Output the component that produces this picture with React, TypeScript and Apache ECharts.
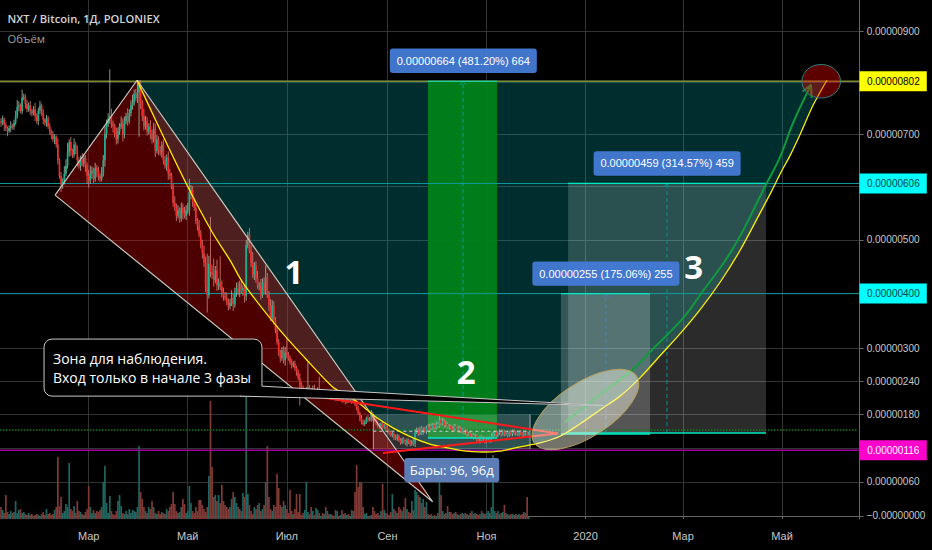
import React, { useEffect, useRef } from 'react';
import * as echarts from 'echarts';

// prices are in satoshi (1 = 0.00000001 BTC), days are counted from 2019-01-01
const FIRST_DAY = 5;
const FIRST_OPEN = 725;
const DAY_MIN = 4.38;
const DAY_MAX = 533.8;

const closes = [
  722, 728, 718, 712, 706, 712, 716, 714, 722, 735,
  752, 755, 744, 770, 772, 758, 748, 755, 745, 740,
  748, 735, 725, 745, 755, 740, 728, 722, 730, 715,
  705, 698, 690, 695, 680, 650, 620, 604, 610, 625,
  640, 665, 685, 668, 660, 680, 670, 650, 640, 650,
  645, 655, 640, 620, 612, 625, 630, 615, 635, 630,
  620, 615, 625, 650, 700, 720, 730, 735, 720, 715,
  700, 690, 705, 715, 720, 700, 725, 735, 725, 740,
  755, 760, 778, 770, 780, 795, 760, 735, 715, 725,
  705, 715, 700, 690, 710, 668, 690, 668, 665, 680,
  650, 640, 655, 625, 620, 600, 570, 560, 545, 555,
  540, 560, 550, 545, 555, 555, 590, 595, 570, 560,
  535, 525, 510, 490, 475, 457, 415, 397, 455, 440,
  435, 425, 443, 415, 420, 412, 402, 395, 392, 385,
  377, 382, 392, 380, 402, 410, 402, 418, 406, 410,
  395, 490, 510, 480, 457, 435, 452, 428, 415, 415,
  397, 420, 406, 430, 397, 378, 355, 378, 351, 333,
  311, 292, 282, 296, 278, 292, 287, 282, 274, 269,
  271, 264, 256, 246, 233, 228, 219, 222, 224, 228,
  224, 222, 226, 220, 222, 224, 218, 220, 216, 219,
  214, 216, 212, 215, 210, 213, 208, 210, 207, 209,
  205, 206, 203, 207, 205, 206, 203, 205, 200, 191,
  182, 173, 166, 163, 166, 173, 171, 171, 180, 173,
  171, 164, 161, 159, 163, 157, 159, 155, 150, 148,
  143, 145, 139, 137, 141, 134, 130, 136, 132, 128,
  134, 130, 127, 132, 128, 148, 152, 146, 155, 148,
  153, 150, 157, 152, 159, 155, 161, 157, 162, 159,
  170, 164, 168, 161, 163, 157, 159, 155, 153, 159,
  155, 152, 155, 150, 153, 148, 150, 145, 146, 141,
  143, 139, 141, 136, 132, 139, 134, 137, 132, 136,
  137, 134, 141, 145, 148, 143, 146, 150, 145, 148,
  145, 146, 143, 148, 145, 150, 146, 148, 145, 148,
  146, 143, 148, 146, 145, 146,
];

const wickUp = [
  6, 8, 4, 5, 3, 5, 9, 4, 6, 10,
  14, 8, 4, 16, 6, 5, 8, 6, 9, 4,
  6, 12, 5, 6, 9, 4, 8, 3, 7, 5,
  6, 4, 8, 5, 3, 12, 4, 8, 6, 14,
  12, 18, 5, 10, 4, 12, 5, 8, 6, 9,
  14, 7, 5, 6, 12, 15, 8, 6, 10, 6,
  8, 5, 12, 10, 15, 8, 10, 90, 14, 6,
  5, 12, 8, 6, 14, 10, 9, 6, 15, 8,
  10, 16, 8, 9, 24, 9, 9, 6, 14, 10,
  8, 6, 12, 9, 12, 10, 8, 6, 9, 6,
  10, 8, 6, 12, 9, 6, 6, 12, 8, 10,
  6, 10, 8, 12, 10, 14, 25, 8, 6, 9,
  8, 6, 12, 8, 10, 14, 12, 59, 15, 88,
  12, 30, 8, 20, 8, 49, 12, 9, 8, 10,
  6, 8, 14, 8, 9, 10, 12, 6, 8, 6,
  8, 10, 5, 12, 10, 20, 6, 8, 14, 6,
  12, 8, 10, 22, 8, 8, 12, 10, 8, 6,
  8, 6, 5, 6, 8, 10, 27, 6, 5, 6,
  5, 6, 4, 5, 8, 5, 4, 5, 6, 47,
  5, 4, 6, 8, 4, 5, 24, 4, 6, 3,
  5, 3, 6, 4, 5, 3, 4, 5, 3, 4,
  4, 3, 6, 4, 3, 8, 4, 3, 5, 6,
  4, 3, 6, 5, 4, 3, 6, 4, 8, 5,
  4, 3, 5, 4, 3, 5, 4, 3, 4, 5,
  3, 4, 3, 5, 4, 3, 4, 3, 4, 3,
  4, 3, 5, 3, 4, 6, 5, 4, 3, 5,
  4, 5, 3, 6, 4, 5, 4, 3, 5, 4,
  8, 3, 6, 4, 5, 3, 4, 3, 5, 4,
  4, 3, 5, 4, 3, 4, 3, 4, 3, 5,
  3, 4, 5, 3, 4, 3, 5, 4, 3, 4,
  3, 4, 5, 4, 3, 5, 4, 3, 4, 5,
  4, 3, 4, 3, 5, 3, 4, 3, 4, 3,
  4, 3, 4, 3, 4, 3,
];

const wickDown = [
  8, 5, 12, 6, 10, 4, 8, 5, 6, 4,
  5, 8, 4, 6, 5, 9, 6, 5, 8, 6,
  4, 10, 5, 8, 6, 5, 9, 6, 8, 5,
  6, 8, 5, 9, 6, 8, 5, 14, 8, 6,
  5, 6, 8, 10, 6, 5, 8, 12, 6, 10,
  6, 8, 12, 15, 14, 6, 10, 8, 6, 12,
  8, 6, 5, 6, 12, 8, 6, 10, 8, 12,
  6, 10, 8, 6, 5, 14, 8, 6, 9, 5,
  6, 8, 5, 6, 10, 85, 12, 10, 8, 6,
  8, 5, 10, 8, 6, 12, 5, 8, 6, 10,
  8, 6, 10, 12, 6, 5, 8, 6, 10, 5,
  8, 6, 12, 5, 8, 6, 10, 14, 8, 6,
  6, 8, 5, 6, 10, 8, 12, 32, 6, 10,
  8, 12, 6, 10, 8, 6, 9, 8, 5, 6,
  8, 6, 5, 12, 6, 8, 5, 9, 6, 10,
  12, 8, 6, 5, 8, 6, 10, 8, 6, 9,
  8, 5, 6, 8, 5, 10, 6, 5, 8, 6,
  5, 6, 8, 5, 6, 10, 6, 5, 4, 6,
  4, 5, 6, 4, 37, 6, 5, 4, 6, 5,
  4, 3, 5, 4, 3, 4, 5, 3, 4, 3,
  3, 4, 3, 5, 3, 4, 3, 4, 3, 3,
  4, 3, 5, 3, 4, 3, 4, 3, 5, 4,
  3, 5, 4, 3, 4, 3, 5, 3, 4, 5,
  4, 3, 4, 5, 3, 4, 3, 4, 3, 5,
  3, 4, 5, 3, 4, 3, 4, 3, 4, 3,
  5, 3, 4, 3, 4, 6, 3, 4, 3, 5,
  4, 3, 5, 3, 4, 3, 4, 3, 5, 4,
  3, 4, 3, 5, 4, 3, 4, 3, 5, 3,
  4, 3, 5, 3, 4, 3, 4, 5, 3, 4,
  3, 4, 3, 5, 3, 4, 4, 3, 4, 3,
  3, 5, 4, 3, 4, 3, 4, 3, 5, 3,
  4, 3, 4, 3, 3, 4, 3, 4, 3, 4,
  3, 4, 3, 4, 3, 3,
];

const volumes = [
  12, 9, 6, 24, 7, 5, 8, 6, 7, 18,
  6, 9, 10, 6, 7, 5, 4, 6, 4, 5,
  3, 4, 5, 4, 3, 5, 7, 4, 10, 5,
  6, 4, 5, 9, 12, 62, 13, 22, 6, 8,
  15, 12, 56, 10, 8, 13, 6, 18, 8, 7,
  5, 4, 7, 10, 33, 12, 6, 9, 6, 8,
  7, 9, 12, 37, 53, 16, 6, 23, 8, 5,
  4, 8, 18, 24, 13, 6, 5, 8, 5, 10,
  6, 9, 8, 7, 12, 73, 27, 20, 12, 8,
  6, 12, 10, 18, 12, 6, 5, 8, 5, 7,
  6, 5, 10, 8, 12, 15, 27, 15, 8, 6,
  7, 12, 20, 15, 6, 8, 33, 16, 8, 6,
  12, 8, 19, 19, 14, 10, 7, 12, 43, 118,
  52, 22, 24, 18, 24, 16, 34, 18, 14, 12,
  10, 12, 20, 27, 22, 16, 12, 10, 8, 26,
  22, 124, 25, 14, 8, 5, 12, 10, 14, 16,
  8, 10, 14, 37, 73, 22, 10, 8, 14, 12,
  45, 31, 14, 12, 18, 14, 10, 6, 29, 8,
  5, 10, 25, 7, 25, 4, 6, 9, 37, 7,
  5, 12, 8, 4, 11, 9, 6, 3, 6, 5,
  12, 8, 5, 5, 4, 3, 9, 8, 3, 4,
  9, 5, 6, 4, 5, 3, 9, 8, 27, 54,
  32, 37, 36, 12, 5, 6, 3, 3, 4, 12,
  8, 5, 6, 4, 8, 35, 9, 6, 5, 4,
  7, 25, 10, 8, 6, 12, 10, 8, 12, 21,
  10, 7, 6, 18, 9, 29, 27, 24, 22, 16,
  20, 12, 17, 5, 4, 5, 3, 4, 3, 6,
  38, 24, 8, 5, 6, 13, 7, 7, 5, 6,
  7, 5, 4, 5, 6, 5, 6, 5, 4, 6,
  8, 5, 6, 5, 4, 5, 8, 6, 5, 6,
  8, 6, 12, 64, 8, 6, 8, 5, 6, 7,
  14, 6, 5, 4, 5, 5, 4, 5, 4, 5,
  4, 5, 7, 6, 22, 2,
];

const monthTicks: [number, string][] = [
  [59, 'Мар'], [120, 'Май'], [181, 'Июл'], [243, 'Сен'],
  [304, 'Ноя'], [365, '2020'], [425, 'Мар'], [486, 'Май'],
];
const gridPrices = [900, 800, 700, 600, 500, 400, 300, 240, 180, 120, 60, 0];
const labelPrices = [900, 700, 500, 300, 240, 180, 60, 0];

// drawings, as [day, price]
const triangle = [[38.3, 584], [88.8, 804], [270.8, 25]];
const bigCurve = [
  [88.8, 804], [101.1, 721], [119.5, 603], [134.9, 515], [146, 462], [154, 420],
  [175.6, 337], [192.2, 282], [209.4, 229], [216.8, 217], [226, 199], [236.5, 174], [246.4, 156],
  [258.7, 138], [269.2, 127], [277.2, 122], [287.6, 116], [301.8, 113], [312.3, 114.5], [324.6, 122],
  [336.9, 129], [349.2, 141], [361.5, 163], [373.8, 188], [386.2, 213], [398.5, 246], [410.8, 286],
  [423.1, 326], [435.4, 370], [447.8, 421], [460.1, 480], [472.4, 550], [479.8, 593], [485.3, 627],
  [490.9, 659], [497, 699], [505, 755], [513.6, 804],
];
const greenArrow = [
  [352.3, 166], [372.6, 213], [393.6, 260], [404.7, 293], [425, 355], [435.4, 397],
  [455.8, 484], [476.1, 604], [484.7, 656], [492.7, 721], [503.8, 795],
];
const arrowHead = [[498.7, 782], [503.8, 795], [504.2, 770]];
const pennantTop = [[189.1, 217], [348, 146]];
const pennantBottom = [[240.2, 111], [348, 146]];

const levels = [
  { price: 802, line: '#7f8a2e', width: 1.5, tag: '#ffff00', text: '#000000' },
  { price: 606, line: '#0e9a9a', width: 1, tag: '#00ffff', text: '#004444' },
  { price: 400, line: '#0e9a9a', width: 1, tag: '#00ffff', text: '#004444' },
  { price: 116, line: '#9b009b', width: 1.5, tag: '#ff00cc', text: '#ffffff' },
];
const DOTTED_PRICE = 152;

const targets = [
  { from: 267.9, to: 310.4, mid: 289.5, low: 138, high: 802, label: '0.00000664 (481.20%) 664', boxDay: 289.7, boxPrice: 842, fill: 'rgba(0,130,25,0.93)', dash: '#0ea28a' },
  { from: 354.2, to: 476.1, mid: 415.1, low: 147, high: 606, label: '0.00000459 (314.57%) 459', boxDay: 415.2, boxPrice: 644, fill: 'rgba(255,255,255,0.17)', dash: '#0b8f8f' },
  { from: 349.8, to: 404.7, mid: 377.5, low: 145, high: 400, label: '0.00000255 (175.06%) 255', boxDay: 377.5, boxPrice: 437, fill: 'rgba(255,255,255,0.2)', dash: '#4f7fb5' },
];

const barsBox = { from: 234.3, to: 330.8, low: 118, high: 180, mid: 150 };
const numbers = [
  { text: '1', day: 185.4, price: 440 },
  { text: '2', day: 291.4, price: 257 },
  { text: '3', day: 431.6, price: 451 },
];

const PRICE_SCALE = 7424;
const toAxis = (p: number) => Math.log(1 + p / PRICE_SCALE);
const fromAxis = (v: number) => Math.round(PRICE_SCALE * (Math.exp(v) - 1));
const pt = (p: number[]) => [p[0], toAxis(p[1])];

const line = (points: number[][], color: string, width: number, z: number, type: any = 'solid', smooth: any = false) => ({
  type: 'line',
  data: points.map(pt),
  showSymbol: false,
  silent: true,
  smooth,
  z,
  lineStyle: { color, width, type },
});

// one-off drawing: gets a day/price -> pixel function
const drawing = (z: number, build: (at: (d: number, p: number) => number[]) => any) => ({
  type: 'custom',
  z,
  silent: true,
  clip: false,
  data: [[0, 0]],
  renderItem: (_: any, api: any) => build((d, p) => api.coord([d, toAxis(p)])),
});

const polygon = (points: number[][], fill: string, z: number) =>
  drawing(z, (at) => ({ type: 'polygon', shape: { points: points.map((q) => at(q[0], q[1])) }, style: { fill } }));

const band = (from: number, to: number, low: number, high: number, fill: string, z: number) =>
  polygon([[from, low], [to, low], [to, high], [from, high]], fill, z);

const labelBox = (day: number, price: number, w: number, h: number, text: string, fill: string, font: string, z: number) =>
  drawing(z, (at) => {
    const [x, y] = at(day, price);
    return {
      type: 'group',
      children: [
        { type: 'rect', shape: { x: x - w / 2, y: y - h / 2, width: w, height: h, r: 3 }, style: { fill } },
        { type: 'text', style: { x, y, text, fill: '#ffffff', font, align: 'center', verticalAlign: 'middle' } },
      ],
    };
  });

const App: React.FC = () => {
  const chartRef = useRef<HTMLDivElement | null>(null);

  useEffect(() => {
    if (!chartRef.current) return;
    const chart = echarts.init(chartRef.current, undefined, { renderer: 'svg' });

    const candles = closes.map((c, i) => {
      const open = i === 0 ? FIRST_OPEN : closes[i - 1];
      const high = Math.max(open, c) + (wickUp[i] ?? 0);
      const low = Math.min(open, c) - (wickDown[i] ?? 0);
      return [FIRST_DAY + i, toAxis(open), toAxis(c), toAxis(low), toAxis(high), c >= open ? 1 : 0];
    });

    const option: any = {
      animation: false,
      backgroundColor: '#000000',
      grid: { left: 0, top: 0, width: 859.7, height: 519 },
      graphic: [
        { type: 'text', left: 7.5, top: 13, style: { text: 'NXT / Bitcoin, 1Д, POLONIEX', fill: '#d4d4d4', font: '600 11.2px "Open Sans"' } },
        { type: 'text', left: 7.5, top: 33, style: { text: 'Объём', fill: '#a0a0a0', font: '11.2px "Open Sans"' } },
      ],
      xAxis: {
        type: 'value',
        min: DAY_MIN,
        max: DAY_MAX,
        axisLine: { lineStyle: { color: '#666666' } },
        axisTick: { length: 3, customValues: monthTicks.map((m) => m[0]), lineStyle: { color: '#666666' } },
        splitLine: { show: true, lineStyle: { color: '#333333' } },
        axisLabel: {
          customValues: monthTicks.map((m) => m[0]),
          color: '#c8c8c8',
          fontFamily: 'Liberation Sans',
          fontSize: 11,
          margin: 11,
          formatter: (v: number) => monthTicks.find((m) => m[0] === v)?.[1] ?? '',
        },
      },
      yAxis: [
        {
          type: 'value',
          position: 'right',
          min: -0.000708,
          max: 0.12176,
          axisLine: { show: true, lineStyle: { color: '#666666' } },
          axisTick: { show: true, length: 4, customValues: gridPrices.map(toAxis), lineStyle: { color: '#666666' } },
          splitLine: { show: true, lineStyle: { color: '#333333' } },
          axisLabel: {
            customValues: labelPrices.map(toAxis),
            color: '#c8c8c8',
            fontFamily: 'Liberation Sans',
            fontSize: 10,
            margin: 7,
            formatter: (v: number) => {
              const p = fromAxis(v);
              return (p === 0 ? '\u2212' : '') + (p / 1e8).toFixed(8);
            },
          },
        },
        { type: 'value', min: 0, max: 519, show: false },
      ],
      series: [
        polygon(bigCurve, 'rgba(0,190,190,0.24)', 2),
        ...targets.map((t) => band(t.from, t.to, t.low, t.high, t.fill, 3)),
        band(barsBox.from, barsBox.to, barsBox.low, barsBox.high, 'rgba(255,255,255,0.18)', 3),
        polygon(triangle, 'rgba(255,0,0,0.3)', 3),
        {
          type: 'bar',
          yAxisIndex: 1,
          z: 4,
          silent: true,
          barWidth: 1.7,
          data: volumes.map((v, i) => ({
            value: [FIRST_DAY + i, v],
            itemStyle: { color: candles[i][5] ? '#1f6660' : '#7f3a36' },
          })),
        },
        ...levels.map((l) => line([[DAY_MIN, l.price], [DAY_MAX, l.price]], l.line, l.width, 4)),
        line([[DAY_MIN, DOTTED_PRICE], [532, DOTTED_PRICE]], '#0e7d1e', 1.5, 4, 'dotted'),
        {
          type: 'custom',
          z: 5,
          silent: true,
          data: candles,
          encode: { x: 0, y: [1, 2, 3, 4] },
          renderItem: (_: any, api: any) => {
            const day = api.value(0);
            const up = api.value(5) === 1;
            const o = api.coord([day, api.value(1)]);
            const c = api.coord([day, api.value(2)]);
            const l = api.coord([day, api.value(3)]);
            const h = api.coord([day, api.value(4)]);
            const top = Math.min(o[1], c[1]);
            return {
              type: 'group',
              children: [
                { type: 'line', shape: { x1: o[0], y1: l[1], x2: o[0], y2: h[1] }, style: { stroke: up ? '#a8bfa8' : '#d8807a', lineWidth: 0.8 } },
                { type: 'rect', shape: { x: o[0] - 0.85, y: top, width: 1.7, height: Math.max(Math.abs(o[1] - c[1]), 0.8) }, style: { fill: up ? '#18b08f' : '#f52a2a' } },
              ],
            };
          },
        },
        ...targets.flatMap((t) => [
          line([[t.mid, t.low], [t.mid, t.high]], t.dash, 1, 6, [4, 3]),
          line([[t.mid - 1.8, t.high - 7], [t.mid, t.high], [t.mid + 1.8, t.high - 7]], t.dash, 1, 6),
          line([[t.from, t.high], [t.to, t.high]], '#00e8c0', 1.2, 6),
          line([[t.from, t.low], [t.to, t.low]], '#00e8c0', 1.5, 6),
        ]),
        line([[barsBox.from, barsBox.mid], [barsBox.to, barsBox.mid]], '#d0d0d0', 1, 6, [3, 3]),
        line([[barsBox.from, barsBox.low], [barsBox.from, barsBox.high]], '#a8a8a8', 1, 6),
        line([[barsBox.to, barsBox.low], [barsBox.to, barsBox.high]], '#a8a8a8', 1, 6),
        line([...triangle, triangle[0]], '#c8c8c0', 1.2, 6),
        line(bigCurve, '#ffee00', 1.3, 6, 'solid', 0.3),
        line(pennantTop, '#ff1a1a', 2, 6),
        line(pennantBottom, '#ff1a1a', 2, 6),
        line(greenArrow, '#0f9b3c', 2, 6, 'solid', 0.4),
        line(arrowHead, '#0f9b3c', 2, 6),
        drawing(7, (at) => {
          const [x, y] = at(510.1, 802);
          return { type: 'ellipse', shape: { cx: x, cy: y, rx: 19.3, ry: 16.8 }, style: { fill: 'rgba(255,0,0,0.36)', stroke: '#2f7f80', lineWidth: 1 } };
        }),
        drawing(7, (at) => {
          const [x, y] = at(364.9, 189);
          return {
            type: 'ellipse',
            x,
            y,
            rotation: (33 * Math.PI) / 180,
            shape: { cx: 0, cy: 0, rx: 61, ry: 27 },
            style: { fill: 'rgba(255,255,235,0.45)', stroke: '#b5a060', lineWidth: 1 },
          };
        }),
        // callout
        drawing(8, (at) => {
          const [x0, y0] = at(31.5, 316.5);
          const [x1, y1] = at(165.7, 213);
          const pts = [[158.3, 231], [165.7, 231], [376.3, 196], [152.2, 213]].map((q) => at(q[0], q[1]));
          return {
            type: 'group',
            children: [
              { type: 'rect', shape: { x: x0, y: y0, width: x1 - x0, height: y1 - y0, r: 8 }, style: { fill: '#000000', stroke: '#c8c8c8', lineWidth: 1 } },
              { type: 'polygon', shape: { points: pts }, style: { fill: '#000000' } },
              { type: 'polyline', shape: { points: pts.slice(1) }, style: { fill: 'none', stroke: '#c8c8c8', lineWidth: 1 } },
              { type: 'text', style: { x: at(37, 0)[0], y: at(0, 282)[1], text: 'Зона для наблюдения.', fill: '#ffffff', font: '14px "Open Sans"', verticalAlign: 'middle' } },
              { type: 'text', style: { x: at(37, 0)[0], y: at(0, 247.5)[1], text: 'Вход только в начале 3 фазы', fill: '#ffffff', font: '14px "Open Sans"', verticalAlign: 'middle' } },
            ],
          };
        }),
        ...targets.map((t) => labelBox(t.boxDay, t.boxPrice, 147, 24.4, t.label, 'rgba(68,122,212,0.96)', '11px "Liberation Sans"', 9)),
        labelBox(282.6, 80.7, 95, 24.3, 'Бары: 96, 96д', '#5b7cb5', '13px "Open Sans"', 9),
        ...numbers.map((n) =>
          drawing(9, (at) => {
            const [x, y] = at(n.day, n.price);
            return { type: 'text', style: { x, y, text: n.text, fill: '#ffffff', font: 'bold 33px "Open Sans"', align: 'center', verticalAlign: 'middle' } };
          }),
        ),
        ...levels.map((l) =>
          drawing(10, (at) => {
            const y = at(0, l.price)[1];
            return {
              type: 'group',
              children: [
                { type: 'rect', shape: { x: 859.5, y: y - 10, width: 67.3, height: 20 }, style: { fill: l.tag } },
                { type: 'text', style: { x: 893.3, y, text: (l.price / 1e8).toFixed(8), fill: l.text, font: '10px "Liberation Sans"', align: 'center', verticalAlign: 'middle' } },
              ],
            };
          }),
        ),
      ],
    };

    chart.setOption(option);
    return () => chart.dispose();
  }, []);

  return <div ref={chartRef} style={{ position: 'absolute', left: 0, top: 0, width: 932, height: 550 }} />;
};

export default App;
